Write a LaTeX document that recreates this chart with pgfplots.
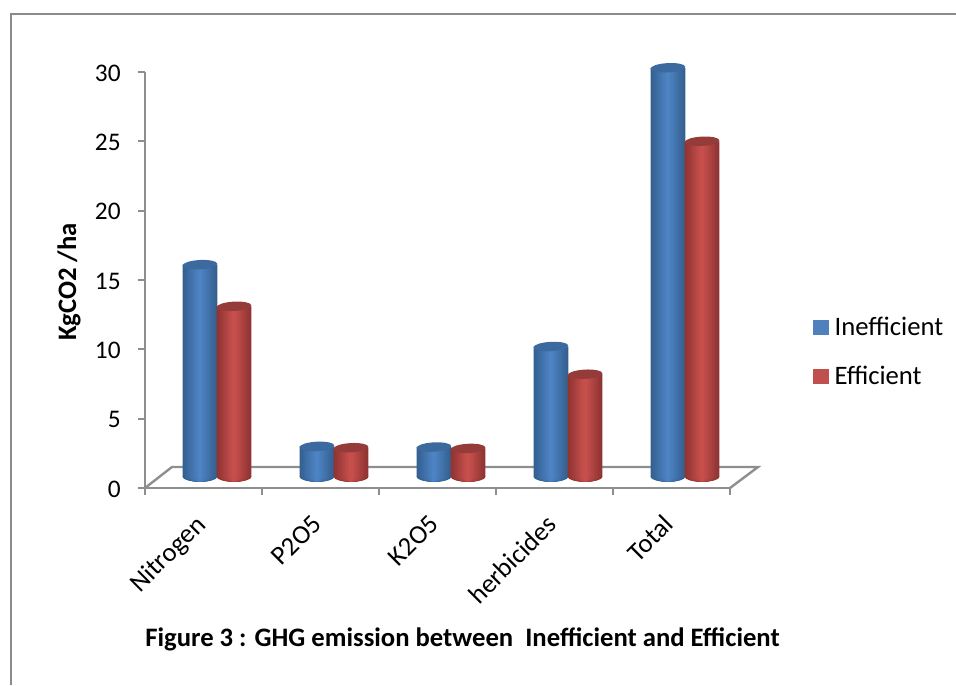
\documentclass[border=0pt]{standalone}
\usepackage{pgfplots}
\usepackage{pgfplotstable}
\pgfplotsset{compat=1.18}
\usepackage{fontspec}
\setmainfont{Carlito}

\definecolor{axgray}{HTML}{8E8E8E}
\definecolor{framegray}{HTML}{8A8A8A}
\definecolor{bluemid}{HTML}{5087CA}
\definecolor{blueedge}{HTML}{34608F}
\definecolor{bluetop}{HTML}{3D6A9E}
\definecolor{blueflat}{HTML}{4F81BD}
\definecolor{redmid}{HTML}{CD5350}
\definecolor{rededge}{HTML}{8F3432}
\definecolor{redtop}{HTML}{953B39}
\definecolor{redflat}{HTML}{C0504D}

% cylinder ends, sizes in pt (1 px = 0.75 pt)
\pgfdeclareplotmark{cyltop}{\pgfpathellipse{\pgfpointorigin}{\pgfpoint{13pt}{0.7pt}}{\pgfpoint{-0.2pt}{3.5pt}}\pgfusepathqfill}
\pgfdeclareplotmark{cylbot}{\pgfpathellipse{\pgfpointorigin}{\pgfpoint{\pgfplotmarksize}{0pt}}{\pgfpoint{0pt}{3.7pt}}\pgfusepathqfill}

\pgfplotstableread{
x ineff eff
0 16.1 13.1
1 3.0 2.9
2 2.95 2.85
3 10.2 8.2
4 30.3 25.0
}\ghg

\pgfplotstableread{
x base
0 0.8
1 0.8
2 0.8
3 0.8
4 0.8
}\basetab

\begin{document}
\begin{tikzpicture}
\useasboundingbox (0,0) rectangle (717pt,513.75pt);
\begin{scope}[x=0.75pt,y=0.75pt]
\draw[framegray,line width=0.8pt] (11,0) -- (11,671) -- (956,671);
\end{scope}

% frame axis: value scale
\begin{axis}[
    at={(108.75pt,147.75pt)}, anchor=south west,
    scale only axis, width=438.75pt, height=312pt,
    xmin=0, xmax=5, ymin=0, ymax=30,
    axis lines=left,
    axis line style={-,axgray,line width=1.8pt},
    xtick={0,1,2,3,4,5}, xticklabels={},
    ytick={0,5,10,15,20,25,30},
    tick style={axgray,line width=1.3pt},
    tick align=outside,
    major tick length=5pt,
    yticklabel style={font=\fontsize{19}{21}\selectfont,black,xshift=-9.75pt,yshift=-0.75pt},
    /pgf/number format/assume math mode=true,
    ylabel={KgCO2 /ha},
    ylabel style={at={(rel axis cs:-0.13,0.495)},anchor=center,font=\fontsize{20}{22}\selectfont\bfseries},
]
\end{axis}
\begin{scope}[x=0.75pt,y=0.75pt]
\draw[axgray,line width=1.8pt] (145,197) -- (172,218) -- (758,218) -- (730,197);
\end{scope}

% bars, offset into the floor
\begin{axis}[
    at={(118.875pt,156.1pt)}, anchor=south west,
    scale only axis, width=438.75pt, height=324.5pt,
    xmin=-0.5, xmax=4.5, ymin=0.8, ymax=32,
    axis line style={draw=none},
    clip mode=individual,
    xtick={0,1,2,3,4},
    xticklabels={Nitrogen,P2O5,K2O5,herbicides,Total},
    ytick=\empty,
    major tick length=0pt,
    xticklabel style={font=\fontsize{20}{22}\selectfont,rotate=45,anchor=north east,xshift=-28pt,yshift=-3.7pt},
    legend style={draw=none,fill=none,at={(1.119,0.289)},anchor=west,
        font=\fontsize{20}{22}\selectfont,row sep=17.5pt,inner sep=0pt,
        nodes={inner xsep=4.5pt}},
    legend cell align=left,
    legend image code/.code={\fill[#1] (0pt,-5.5pt) rectangle (11pt,5.5pt);},
]
\addlegendimage{blueflat}
\addlegendentry{Inefficient}
\addlegendimage{redflat}
\addlegendentry{Efficient}

% nested bars, narrower and lighter towards the middle, give the cylinder shading
\pgfplotsinvokeforeach{0,8,16,24,32,40,48,56,64,72,80,88}{
\addplot[only marks,mark=cylbot,mark size={(100-#1)*0.13pt},mark options={draw=none,fill=bluemid!#1!blueedge},forget plot] table[x expr=\thisrow{x}-0.146,y=base] {\basetab};
\addplot[ybar,bar width={(100-#1)*0.26pt},bar shift=-12.8pt,draw=none,fill=bluemid!#1!blueedge,forget plot] table[x=x,y=ineff] {\ghg};
}
\addplot[only marks,mark=cyltop,mark options={draw=none,fill=bluetop},forget plot] table[x expr=\thisrow{x}-0.146,y=ineff] {\ghg};

\pgfplotsinvokeforeach{0,8,16,24,32,40,48,56,64,72,80,88}{
\addplot[only marks,mark=cylbot,mark size={(100-#1)*0.13pt},mark options={draw=none,fill=redmid!#1!rededge},forget plot] table[x expr=\thisrow{x}+0.146,y=base] {\basetab};
\addplot[ybar,bar width={(100-#1)*0.26pt},bar shift=12.8pt,draw=none,fill=redmid!#1!rededge,forget plot] table[x=x,y=eff] {\ghg};
}
\addplot[only marks,mark=cyltop,mark options={draw=none,fill=redtop},forget plot] table[x expr=\thisrow{x}+0.146,y=eff] {\ghg};
\end{axis}

\node[font=\fontsize{20}{22}\selectfont\bfseries] at (346.9pt,34pt) {Figure 3 : GHG emission between\ \ Inefficient and Efficient};
\end{tikzpicture}
\end{document}
